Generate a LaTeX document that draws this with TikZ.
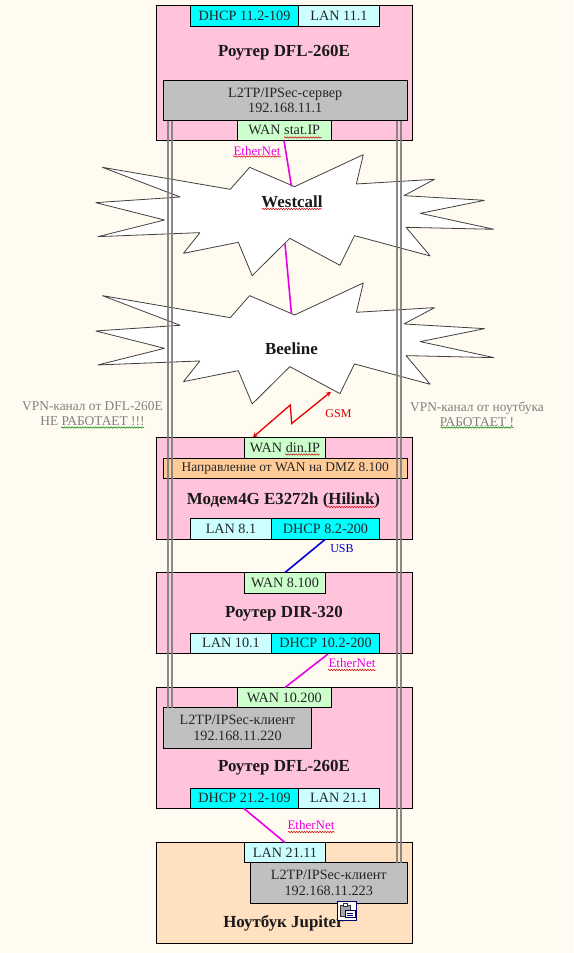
\documentclass[tikz,border=0pt]{standalone}
\usepackage{fontspec}
\setmainfont{Liberation Serif}
\usetikzlibrary{decorations.pathmorphing}
\definecolor{bgc}{HTML}{FFFBF0}
\definecolor{pinkc}{HTML}{FFC4DC}
\definecolor{peachc}{HTML}{FFE0C0}
\definecolor{cyanc}{HTML}{00FFFF}
\definecolor{lcyanc}{HTML}{CCFFFF}
\definecolor{greenc}{HTML}{CCFFCC}
\definecolor{grayc}{HTML}{C0C0C0}
\definecolor{orangec}{HTML}{FFCC99}
\definecolor{magc}{HTML}{E800E8}
\definecolor{vpnc}{HTML}{808080}
\tikzset{
 x=1pt,y=-1pt,
 boxs/.style={draw=black,line width=1pt,outer sep=0pt,inner sep=0pt,anchor=north west,align=center,font=\fontsize{14.2}{15}\selectfont,text=black!85},
 big/.style={font=\bfseries\fontsize{16.9}{19}\selectfont,text=black!90,inner sep=0pt},
 lab/.style={font=\fontsize{13}{14}\selectfont,inner sep=0pt},
 vpntext/.style={font=\fontsize{13.4}{15}\selectfont,text=vpnc,inner sep=0pt,align=center},
 magline/.style={draw=magc,line width=1.6pt},
 tunnel/.style={draw=vpnc,line width=1.9pt,opacity=.92},
 cloudline/.style={draw=black!75,line width=.8pt,fill=white,line join=bevel},
 wavr/.style={draw=red!80!black,line width=.5pt,decorate,decoration={snake,amplitude=.7pt,segment length=2.6pt}},
 wavg/.style={draw=green!50!black,line width=.5pt,decorate,decoration={snake,amplitude=.7pt,segment length=2.6pt}}
}
\newcommand{\bx}[7]{\node[boxs,fill=#6,minimum width=#4pt-#2pt,minimum height=#5pt-#3pt] (#1) at (#2,#3) {#7};}
\newcommand{\cloudpoly}{(280,52) -- (493,141) -- (262,158) -- (450,210) -- (268,260) -- (547,248) -- (502,310) -- (652,277) -- (690,377) -- (793,265) -- (930,346) -- (970,257) -- (1177,318) -- (1111,232) -- (1352,238) -- (1150,190) -- (1326,151) -- (1105,137) -- (1189,88) -- (975,102) -- (994,14) -- (806,110) -- (683,52) -- (630,118) -- cycle}
\begin{document}
\begin{tikzpicture}
\useasboundingbox[fill=bgc] (0,0) rectangle (573,953);
% main device boxes
\bx{rtop}{156.5}{5.5}{412.5}{140}{pinkc}{}
\bx{modem}{156.5}{437.5}{412.5}{539.5}{pinkc}{}
\bx{dir}{156.5}{572.5}{412.5}{653.5}{pinkc}{}
\bx{rbot}{156.5}{687.5}{412.5}{808.5}{pinkc}{}
\bx{lap}{156.5}{842.5}{412.5}{943.5}{peachc}{}
% clouds
\begin{scope}[x=0.3655pt,y=-0.3333pt,shift={(0,450)}]
\draw[cloudline] \cloudpoly;
\end{scope}
\begin{scope}[x=0.3655pt,y=-0.3333pt,shift={(0,835)}]
\draw[cloudline] \cloudpoly;
\end{scope}
\coordinate (wtop) at (291.5,186.5);
\coordinate (wbot) at (285,243.5);
\coordinate (btop) at (291.5,314);
% sub boxes
\bx{srv}{163.5}{80.5}{407}{120.5}{grayc}{L2TP/IPSec-сервер\\192.168.11.1}
\bx{dirn}{163.5}{458.5}{407}{478.5}{orangec}{\fontsize{13.4}{15}\selectfont Направление от WAN на DMZ 8.100}
\bx{cl1}{163.5}{707.5}{311.5}{748.5}{grayc}{L2TP/IPSec-клиент\\[1pt]192.168.11.220}
\bx{cl2}{250.5}{862.5}{407}{903.5}{grayc}{L2TP/IPSec-клиент\\[1pt]192.168.11.223}
% tunnels
\coordinate (sa) at (168.3,120.5); \coordinate (sb) at (171.6,120.5);
\coordinate (sc) at (397.2,120.5); \coordinate (sd) at (400.8,120.5);
\coordinate (ca) at (168.3,707.5); \coordinate (cb) at (171.6,707.5);
\coordinate (cc) at (397.2,862.5); \coordinate (cd) at (400.8,862.5);
\draw[tunnel] (sa) -- (ca);
\draw[tunnel] (sb) -- (cb);
\draw[tunnel] (sc) -- (cc);
\draw[tunnel] (sd) -- (cd);
% ports
\bx{p1}{190.5}{5.5}{298.5}{26}{cyanc}{DHCP 11.2-109}
\bx{p2}{298.5}{5.5}{379.5}{26}{lcyanc}{LAN 11.1}
\bx{p3}{237.5}{120.5}{331}{140}{greenc}{WAN stat.IP}
\bx{p4}{244.5}{437.5}{325.5}{458.5}{greenc}{WAN din.IP}
\bx{p5}{190.5}{518.5}{271.5}{539.5}{lcyanc}{LAN 8.1}
\bx{p6}{271.5}{518.5}{379.5}{539.5}{cyanc}{DHCP 8.2-200}
\bx{p7}{244.5}{572.5}{325.5}{593}{greenc}{WAN 8.100}
\bx{p8}{190.5}{633}{271.5}{653.5}{lcyanc}{LAN 10.1}
\bx{p9}{271.5}{633}{379.5}{653.5}{cyanc}{DHCP 10.2-200}
\bx{p10}{237.5}{687.5}{331}{707.5}{greenc}{WAN 10.200}
\bx{p11}{190.5}{788}{298.5}{808.5}{cyanc}{DHCP 21.2-109}
\bx{p12}{298.5}{788}{379.5}{808.5}{lcyanc}{LAN 21.1}
\bx{p13}{244.5}{842.5}{325.5}{862.5}{lcyanc}{LAN 21.11}
% titles
\node[big] (t1) at (284,52.5) {Роутер DFL-260E};
\node[big] (t2) at (292,202) {Westcall};
\node[big] (t3) at (291.5,348.5) {Beeline};
\node[big] (t4) at (283.5,500) {Модем4G E3272h (Hilink)};
\node[big] (t5) at (284,613.5) {Роутер DIR-320};
\node[big] (t6) at (284,767.5) {Роутер DFL-260E};
\node[big] (t7) at (283.5,923) {Ноутбук Jupiter};
% connectors
\draw[magline] (284,140.5) -- (wtop);
\draw[magline] (wbot) -- (btop);
\coordinate (a1) at (325,539.5); \coordinate (a2) at (285,572.5);
\draw[draw=blue!85!black,line width=1.6pt] (a1) -- (a2);
\coordinate (b1) at (328,654); \coordinate (b2) at (285,687.5);
\draw[magline] (b1) -- (b2);
\coordinate (c1) at (244,808.5); \coordinate (c2) at (285,842.5);
\draw[magline] (c1) -- (c2);
% GSM
\coordinate (g1) at (252.7,437.5); \coordinate (g2) at (290.3,405);
\coordinate (g3) at (291.7,423.5); \coordinate (g4) at (331,391.7);
\draw[draw=red!90!black,line width=1.3pt,<->,>=stealth] (g1) -- (g2) -- (g3) -- (g4);
% labels
\node[lab,text=magc] (e1) at (257,151) {EtherNet};
\node[lab,text=magc] (e2) at (352,663) {EtherNet};
\node[lab,text=magc] (e3) at (311,825) {EtherNet};
\node[lab,font=\fontsize{12}{14}\selectfont,text=red!85!black] (gsm) at (338.5,413.5) {GSM};
\node[lab,font=\fontsize{12}{14}\selectfont,text=blue!80!black] (usb) at (342,549) {USB};
\node[vpntext] (v1) at (92.5,414) {VPN-канал от DFL-260E\\НЕ РАБОТАЕТ !!!};
\node[vpntext] (v2) at (477,414) {VPN-канал от ноутбука\\РАБОТАЕТ !};
% spell-check underlines
\draw[wavr] (233,156.5) -- (281,156.5);
\draw[wavr] (328,670) -- (376,670);
\draw[wavr] (288,832) -- (335,832);
\draw[wavr] (262,209) -- (322,209);
\draw[wavr] (284,137.5) -- (322,137.5);
\draw[wavr] (285,454.5) -- (320,454.5);
\draw[wavr] (328,507) -- (375,507);
\draw[wavg] (61,427.5) -- (144,427.5);
\draw[wavg] (440.5,427.5) -- (513.5,427.5);
% clipboard icon
\node[draw=blue!40!black,fill=white,line width=.9pt,outer sep=0pt,minimum size=19pt,inner sep=0pt,anchor=north west] (icon) at (337.5,901.5) {};
\fill[gray!70] (340.5,905) rectangle (350,916);
\draw[black!80,line width=.6pt] (340.5,905) rectangle (350,916);
\fill[white] (345,910.5) rectangle (355,917);
\draw[blue!40!black,line width=.7pt] (345,910.5) rectangle (355,917);
\draw[black!80,line width=.6pt,fill=white] (343,903.5) rectangle (347.5,906);
\draw[blue!40!black,line width=.5pt] (347,913) -- (353,913) (347,915) -- (353,915);
\end{tikzpicture}
\end{document}
